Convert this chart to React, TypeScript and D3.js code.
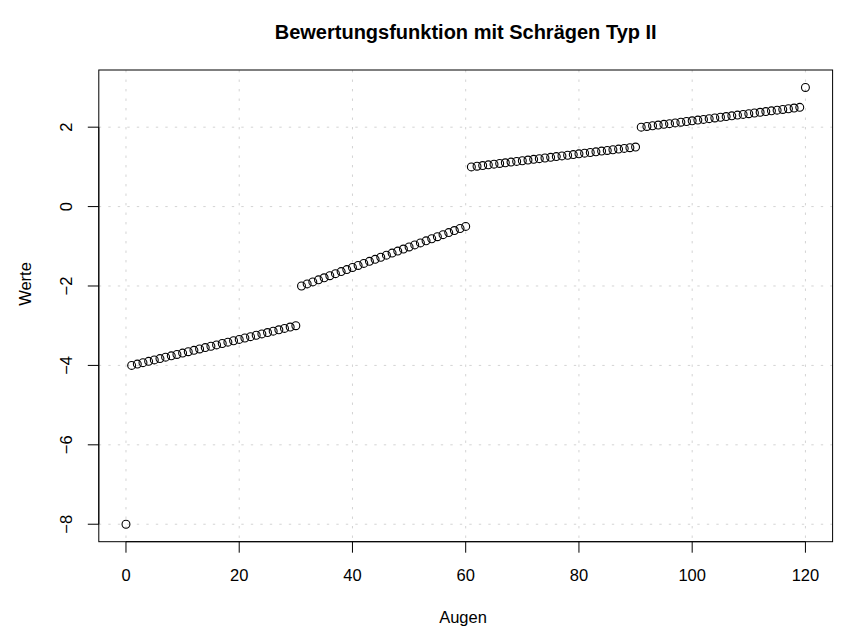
import React from "react";
import * as d3 from "d3";

// Data (x = Augen, y = Werte)
const seg0X = [0];
const seg0Y = [-8];
const seg1Y = [
  -4.0, -3.966, -3.931, -3.897, -3.862, -3.828, -3.793, -3.759, -3.724, -3.69,
  -3.655, -3.621, -3.586, -3.552, -3.517, -3.483, -3.448, -3.414, -3.379, -3.345,
  -3.31, -3.276, -3.241, -3.207, -3.172, -3.138, -3.103, -3.069, -3.034, -3.0,
];
const seg2Y = [
  -2.0, -1.948, -1.897, -1.845, -1.793, -1.741, -1.69, -1.638, -1.586, -1.534,
  -1.483, -1.431, -1.379, -1.328, -1.276, -1.224, -1.172, -1.121, -1.069, -1.017,
  -0.966, -0.914, -0.862, -0.81, -0.759, -0.707, -0.655, -0.603, -0.552, -0.5,
];
const seg3Y = [
  1.0, 1.017, 1.034, 1.052, 1.069, 1.086, 1.103, 1.121, 1.138, 1.155,
  1.172, 1.19, 1.207, 1.224, 1.241, 1.259, 1.276, 1.293, 1.31, 1.328,
  1.345, 1.362, 1.379, 1.397, 1.414, 1.431, 1.448, 1.466, 1.483, 1.5,
];
const seg4Y = [
  2.0, 2.018, 2.036, 2.054, 2.071, 2.089, 2.107, 2.125, 2.143, 2.161,
  2.179, 2.196, 2.214, 2.232, 2.25, 2.268, 2.286, 2.304, 2.321, 2.339,
  2.357, 2.375, 2.393, 2.411, 2.429, 2.446, 2.464, 2.482, 2.5,
];
const lastY = [3];

const xTicks = [0, 20, 40, 60, 80, 100, 120];
const yTicks = [-8, -6, -4, -2, 0, 2];
const titleText = "Bewertungsfunktion mit Schrägen Typ II";
const xLabel = "Augen";
const yLabel = "Werte";

const allY = [...seg0Y, ...seg1Y, ...seg2Y, ...seg3Y, ...seg4Y, ...lastY];
const points = allY.map((v, i) => ({ x: seg0X[0] + i, y: v }));

export default function App() {
  const W = 860;
  const H = 631;
  const left = 98.8, right = 832.6, top = 70, bottom = 541.7;
  const xMin = 0, xMax = 120, yMin = -8, yMax = 3;
  const xPad = (xMax - xMin) * 0.04;
  const yPad = (yMax - yMin) * 0.04;
  const x = d3.scaleLinear().domain([xMin - xPad, xMax + xPad]).range([left, right]);
  const y = d3.scaleLinear().domain([yMin - yPad, yMax + yPad]).range([bottom, top]);
  const font = "Liberation Sans, Arial, Helvetica, sans-serif";
  const tick = 11;
  const grid = "#d3d3d3";

  return (
    <svg
      width={W}
      height={H}
      style={{ position: "absolute", left: 0, top: 0, background: "#fff" }}
      fontFamily={font}
    >
      <rect x={0} y={0} width={W} height={H} fill="#fff" />
      {/* grid */}
      {xTicks.map((t) => (
        <line key={"gx" + t} x1={x(t)} x2={x(t)} y1={top} y2={bottom}
          stroke={grid} strokeWidth={1} strokeDasharray="2.4 7.1" />
      ))}
      {yTicks.map((t) => (
        <line key={"gy" + t} x1={left} x2={right} y1={y(t)} y2={y(t)}
          stroke={grid} strokeWidth={1} strokeDasharray="2.4 7.1" />
      ))}
      {/* points */}
      {points.map((p, i) => (
        <circle key={i} cx={x(p.x)} cy={y(p.y)} r={3.95} fill="none" stroke="#000" strokeWidth={1.1} />
      ))}
      {/* box */}
      <rect x={left} y={top} width={right - left} height={bottom - top} fill="none" stroke="#000" strokeWidth={1} />
      {/* x axis */}
      <line x1={x(xTicks[0])} x2={x(xTicks[xTicks.length - 1])} y1={bottom} y2={bottom} stroke="#000" />
      {xTicks.map((t) => (
        <g key={"xt" + t}>
          <line x1={x(t)} x2={x(t)} y1={bottom} y2={bottom + tick} stroke="#000" />
          <text x={x(t)} y={581} fontSize={16.5} textAnchor="middle" fill="#000">{t}</text>
        </g>
      ))}
      {/* y axis */}
      <line x1={left} x2={left} y1={y(yTicks[0])} y2={y(yTicks[yTicks.length - 1])} stroke="#000" />
      {yTicks.map((t) => (
        <g key={"yt" + t}>
          <line x1={left - tick} x2={left} y1={y(t)} y2={y(t)} stroke="#000" />
          <text transform={`translate(72,${y(t)}) rotate(-90)`} fontSize={16.5} textAnchor="middle" fill="#000">
            {t < 0 ? "\u2212" + Math.abs(t) : String(t)}
          </text>
        </g>
      ))}
      {/* labels */}
      <text x={(left + right) / 2} y={39} fontSize={20} fontWeight="bold" textAnchor="middle" fill="#000">{titleText}</text>
      <text x={463} y={623} fontSize={16.5} textAnchor="middle" fill="#000">{xLabel}</text>
      <text transform={`translate(31,284) rotate(-90)`} fontSize={16.5} textAnchor="middle" fill="#000">{yLabel}</text>
    </svg>
  );
}
